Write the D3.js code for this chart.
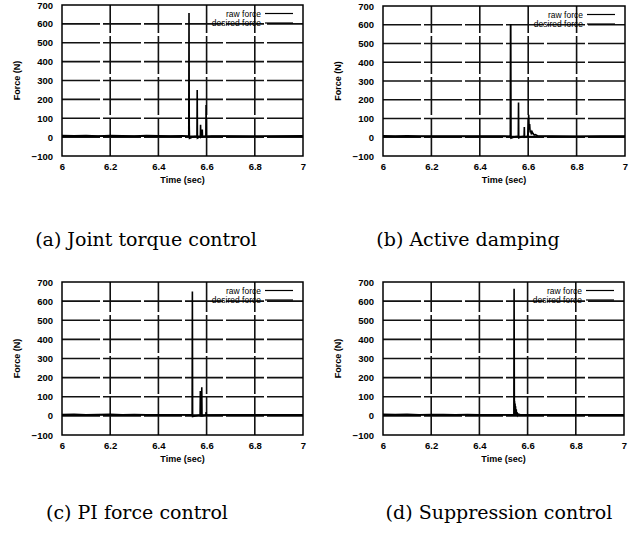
<!DOCTYPE html>
<html><head><meta charset="utf-8">
<script src="https://cdn.jsdelivr.net/npm/d3@7"></script>
<style>body{margin:0;background:#fff}svg{display:block}</style>
</head><body>
<script>
// ---- data ----
const xTicks = [6, 6.2, 6.4, 6.6, 6.8, 7];
const xTickLabels = ["6", "6.2", "6.4", "6.6", "6.8", "7"];
const yTicks = [-100, 0, 100, 200, 300, 400, 500, 600, 700];
const seriesNames = ["raw force", "desired force"];
const captions = ["(a) Joint torque control", "(b) Active damping", "(c) PI force control", "(d) Suppression control"];
const xLabel = "Time (sec)";
const yLabel = "Force (N)";

const desiredTime = [6, 7];
const desiredForce = [4, 4];

const timeA = [6.0, 6.05, 6.1, 6.15, 6.2, 6.25, 6.3, 6.35, 6.4, 6.45, 6.5, 6.526, 6.527, 6.528, 6.529, 6.545, 6.560, 6.561, 6.562, 6.574, 6.575, 6.576, 6.581, 6.582, 6.583, 6.597, 6.598, 6.599, 6.62, 6.7, 6.8, 6.9, 7.0];
const rawA  = [9, 7, 8, 6, 8, 7, 6, 8, 7, 6, 7, 5, 658, 60, -6, 2, 5, 250, -5, 3, 65, 0, 5, 40, 2, 5, 170, 3, 6, 6, 5, 6, 7];

const timeB = [6.0, 6.05, 6.1, 6.15, 6.2, 6.25, 6.3, 6.35, 6.4, 6.45, 6.5, 6.526, 6.527, 6.528, 6.529, 6.545, 6.559, 6.560, 6.561, 6.575, 6.583, 6.584, 6.585, 6.598, 6.600, 6.602, 6.604, 6.606, 6.608, 6.610, 6.613, 6.616, 6.62, 6.625, 6.63, 6.64, 6.7, 6.8, 6.9, 7.0];
const rawB  = [8, 7, 8, 6, 7, 7, 6, 7, 6, 6, 7, 5, 600, 600, -5, 3, 5, 185, -3, 4, 5, 55, 0, 5, 60, 120, 40, 70, 25, 35, 15, 30, 20, 12, 14, 7, 6, 5, 6, 6];

const timeC = [6.0, 6.05, 6.1, 6.15, 6.2, 6.25, 6.3, 6.35, 6.4, 6.45, 6.5, 6.540, 6.541, 6.542, 6.573, 6.574, 6.575, 6.579, 6.580, 6.581, 6.597, 6.598, 6.599, 6.7, 6.8, 6.9, 7.0];
const rawC  = [7, 8, 6, 7, 8, 6, 7, 6, 5, 6, 6, 5, 650, -3, 5, 130, 2, 5, 150, 0, 5, 20, 4, 6, 5, 6, 6];

const timeD = [6.0, 6.05, 6.1, 6.15, 6.2, 6.25, 6.3, 6.35, 6.4, 6.45, 6.5, 6.543, 6.544, 6.545, 6.546, 6.547, 6.548, 6.549, 6.550, 6.551, 6.553, 6.554, 6.556, 6.558, 6.560, 6.57, 6.6, 6.7, 6.8, 6.9, 7.0];
const rawD  = [8, 7, 8, 6, 7, 7, 6, 7, 6, 6, 6, 5, 665, 80, 75, 10, 65, 5, 50, 5, 35, 5, 20, 5, 10, 6, 5, 6, 5, 6, 5];

const panelTimes = [timeA, timeB, timeC, timeD];
const panelRaw = [rawA, rawB, rawC, rawD];

// ---- layout ----
const W = 634, H = 535;
const boxes = [
  {l: 62, r: 303, t: 5, b: 156, capX: 146, capY: 246},
  {l: 383, r: 625, t: 6, b: 156, capX: 468, capY: 246},
  {l: 62, r: 303, t: 282, b: 435, capX: 137, capY: 519},
  {l: 383, r: 624, t: 282, b: 435, capX: 499, capY: 519}
];

const svg = d3.select("body").append("svg").attr("width", W).attr("height", H);
const sans = "'Liberation Sans', Arial, sans-serif";
const serif = "'DejaVu Serif', 'Liberation Serif', serif";

boxes.forEach((bx, i) => {
  const x = d3.scaleLinear().domain([6, 7]).range([bx.l, bx.r]);
  const y = d3.scaleLinear().domain([-100, 700]).range([bx.b, bx.t]);
  const g = svg.append("g");

  // grid
  const grid = g.append("g").attr("stroke", "#111").attr("stroke-width", 1.6).attr("stroke-dasharray", "38,3");
  grid.selectAll("line.v").data(xTicks.slice(1, -1)).join("line")
    .attr("x1", d => x(d)).attr("x2", d => x(d)).attr("y1", bx.b).attr("y2", bx.t);
  grid.selectAll("line.h").data(yTicks.slice(1, -1)).join("line")
    .attr("x1", bx.l).attr("x2", bx.r).attr("y1", d => y(d)).attr("y2", d => y(d));

  // key background (clips grid)
  g.append("rect").attr("x", x(6.525)).attr("y", bx.t + 1)
    .attr("width", x(7) - x(6.525) - 1).attr("height", y(700) - y(583) - 1).attr("fill", "#fff");

  // data
  const line = d3.line().x(d => x(d[0])).y(d => y(d[1]));
  const raw = panelTimes[i].map((t, k) => [t, panelRaw[i][k]]);
  const des = desiredTime.map((t, k) => [t, desiredForce[k]]);
  g.append("path").datum(des).attr("d", line).attr("fill", "none")
    .attr("stroke", "#000").attr("stroke-width", 1.5);
  g.append("path").datum(raw).attr("d", line).attr("fill", "none")
    .attr("stroke", "#000").attr("stroke-width", 1.6).attr("stroke-linejoin", "miter");

  // frame
  g.append("rect").attr("x", bx.l).attr("y", bx.t).attr("width", bx.r - bx.l).attr("height", bx.b - bx.t)
    .attr("fill", "none").attr("stroke", "#000").attr("stroke-width", 1.5);

  // axes
  const ax = g.append("g").attr("transform", `translate(0,${bx.b})`)
    .call(d3.axisBottom(x).tickValues(xTicks).tickFormat((d, k) => xTickLabels[k]).tickSize(0).tickPadding(7));
  const ay = g.append("g").attr("transform", `translate(${bx.l},0)`)
    .call(d3.axisLeft(y).tickValues(yTicks).tickFormat(d3.format("d")).tickSize(0).tickPadding(9));
  [ax, ay].forEach(a => {
    a.select(".domain").remove();
    a.selectAll("text").attr("font-family", sans).attr("font-size", 9.5).attr("font-weight", "bold").attr("fill", "#000");
  });

  // axis titles
  g.append("text").attr("x", (bx.l + bx.r) / 2).attr("y", bx.b + 27).attr("text-anchor", "middle")
    .attr("font-family", sans).attr("font-size", 9).attr("font-weight", "bold").text(xLabel);
  g.append("text").attr("transform", `translate(${bx.l - 42},${(bx.t + bx.b) / 2}) rotate(-90)`)
    .attr("text-anchor", "middle").attr("font-family", sans).attr("font-size", 9).attr("font-weight", "bold").text(yLabel);

  // key
  seriesNames.forEach((nm, k) => {
    const ky = bx.t + 8.5 + k * 9.5;
    g.append("text").attr("x", bx.r - 42).attr("y", ky + 3).attr("text-anchor", "end")
      .attr("font-family", sans).attr("font-size", 8.5).attr("fill", "#000").text(nm);
    g.append("line").attr("x1", bx.r - 38).attr("x2", bx.r - 10).attr("y1", ky).attr("y2", ky)
      .attr("stroke", "#000").attr("stroke-width", 1.2);
  });

  // caption
  svg.append("text").attr("x", bx.capX).attr("y", bx.capY).attr("text-anchor", "middle")
    .attr("font-family", serif).attr("font-size", 19).attr("fill", "#000").text(captions[i]);
});
</script>
</body></html>
